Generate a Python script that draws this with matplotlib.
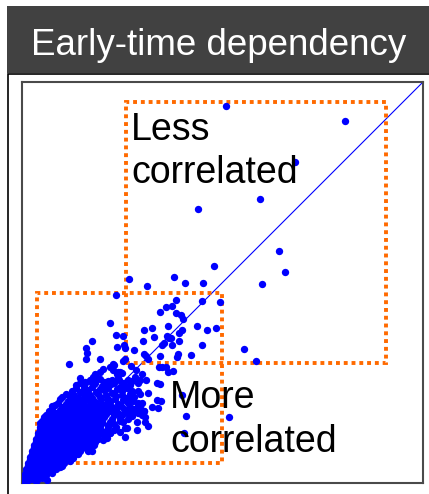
import numpy as np
import matplotlib
matplotlib.use("Agg")
import matplotlib.pyplot as plt
from matplotlib.patches import Rectangle

plt.rcParams['font.family'] = ['Liberation Sans', 'DejaVu Sans']

# scattered points (x, y) outside the dense core
sparse_pts = np.array([
    (51.0, 94.25), (80.75, 90.4), (68.25, 80.25), (59.4, 70.9), (44.1, 68.4),
    (64.25, 57.9), (48.0, 54.3), (65.75, 52.75), (60.0, 49.75), (38.1, 51.6),
    (40.75, 50.1), (45.3, 50.1), (26.7, 50.9), (31.2, 49.2), (23.4, 47.0),
    (38.4, 45.75), (36.0, 44.0), (37.5, 44.25), (45.0, 45.5), (49.5, 45.2),
    (34.5, 42.8), (38.4, 42.5), (39.75, 42.0), (40.2, 40.9), (43.8, 39.2),
    (46.25, 38.3), (48.6, 38.8), (30.6, 38.25), (32.4, 38.8), (36.6, 39.2),
    (40.1, 38.3), (23.4, 37.1), (25.2, 36.75), (32.9, 36.4), (36.2, 36.75),
    (36.75, 36.2), (37.25, 36.3), (39.25, 37.6), (35.4, 34.9), (35.1, 34.5),
    (37.5, 34.5), (39.3, 35.6), (30.25, 35.6), (45.0, 34.6), (23.7, 34.1),
    (25.5, 34.4), (25.7, 33.7), (27.9, 33.25), (30.6, 32.25), (31.0, 31.75),
    (34.5, 31.7), (39.0, 32.2), (38.75, 31.4), (42.25, 31.9), (55.6, 33.5),
    (58.5, 30.6), (31.4, 30.9), (25.7, 30.9), (34.25, 29.1), (34.9, 28.9),
    (36.0, 28.9), (36.4, 27.8), (37.8, 28.1), (27.3, 29.25), (28.5, 28.25),
    (29.9, 27.2), (22.0, 28.9), (22.8, 29.7), (24.1, 27.75), (24.9, 27.4),
    (22.0, 40.1), (17.4, 35.6), (15.9, 33.8), (16.25, 32.4), (15.9, 31.0),
    (11.75, 29.8), (19.5, 31.0), (22.9, 29.5), (25.3, 30.5), (29.5, 25.75),
    (30.9, 25.75), (27.6, 25.6), (29.1, 24.9), (28.25, 26.6), (33.7, 24.9),
    (34.5, 24.75), (26.2, 24.1), (27.4, 22.8), (29.1, 23.1), (29.5, 22.25),
    (31.4, 22.6), (26.6, 21.2), (27.8, 20.6), (29.1, 20.1), (30.1, 19.9),
    (34.75, 20.6), (33.9, 18.7), (27.0, 18.7), (27.4, 17.6), (29.1, 17.8),
    (30.6, 18.1), (30.1, 17.0), (39.9, 22.0), (41.0, 16.8), (51.75, 16.6),
    (28.7, 15.3), (30.75, 15.3), (31.4, 14.25), (25.75, 13.7), (40.6, 12.4),
    (7.4, 19.25), (17.0, 8.4), (17.4, 8.0), (14.9, 9.1), (15.75, 10.3),
    (20.3, 10.75), (22.0, 12.4), (12.8, 6.2), (11.2, 6.75), (4.5, 1.6),
    (6.2, 0.75), (3.7, 0.75), (9.5, 4.0), (7.75, 3.75), (20.3, 28.4),
    (19.5, 27.7), (18.25, 27.25), (17.7, 26.6), (18.8, 26.2), (22.8, 28.25),
    (23.7, 27.25), (24.5, 27.8), (24.3, 25.75), (22.4, 25.75), (14.5, 24.9),
    (15.75, 25.1), (21.2, 24.9), (17.0, 25.75), (25.3, 15.3), (26.2, 17.4),
    (28.7, 13.25), (26.2, 13.7), (24.5, 12.8), (25.75, 11.6), (21.2, 11.2),
    (30.75, 16.6), (32.4, 19.1), (33.7, 20.75), (13.7, 7.4), (4.5, 14.9),
    (6.2, 16.6), (3.25, 7.8), (2.8, 5.75),
])

# dense core near the origin
core_pts = np.array([
    (14.5, 26.2), (17.0, 25.6), (19.6, 26.0), (21.4, 25.4), (24.1, 26.3), (26.4, 25.7),
    (13.4, 24.6), (15.6, 24.2), (17.9, 24.8), (20.1, 24.3), (22.2, 24.7), (24.6, 24.1), (27.1, 24.5),
    (12.4, 23.1), (14.6, 22.7), (16.5, 23.3), (18.6, 22.8), (20.4, 23.2), (22.6, 22.6), (25.1, 23.0),
    (27.4, 22.9),
    (10.1, 21.4), (12.0, 21.8), (13.9, 21.3), (15.9, 21.7), (17.6, 21.2), (19.4, 21.6), (21.6, 21.1),
    (23.4, 21.7), (25.9, 21.3), (28.1, 21.5),
    (9.1, 20.1), (10.9, 19.7), (12.6, 20.2), (14.1, 19.8), (15.6, 20.3), (17.1, 19.6), (18.6, 20.1),
    (20.1, 19.7), (21.9, 20.2), (24.1, 19.8), (26.4, 20.0), (28.9, 19.6),
    (7.6, 18.6), (9.4, 18.2), (11.1, 18.7), (12.6, 18.3), (14.0, 18.8), (15.6, 18.2), (17.1, 18.6),
    (18.6, 18.3), (20.1, 18.7), (21.6, 18.2), (23.4, 18.6), (25.6, 18.4), (28.1, 18.5), (30.4, 18.1),
    (6.1, 17.1), (7.6, 16.8), (9.1, 17.2), (10.6, 16.7), (12.1, 17.1), (13.6, 16.8), (15.1, 17.2),
    (16.6, 16.7), (18.1, 17.1), (19.6, 16.8), (21.1, 17.2), (23.1, 16.9), (25.1, 17.1), (27.6, 16.8),
    (5.1, 15.6), (6.6, 15.2), (8.1, 15.7), (9.6, 15.3), (11.1, 15.6), (12.6, 15.2), (14.1, 15.7),
    (15.6, 15.3), (17.1, 15.6), (18.6, 15.2), (20.1, 15.6), (22.1, 15.3), (24.6, 15.5),
    (4.6, 14.1), (6.1, 13.8), (7.6, 14.2), (9.1, 13.7), (10.6, 14.1), (12.1, 13.8), (13.6, 14.2),
    (15.1, 13.7), (16.6, 14.1), (18.1, 13.8), (19.6, 14.2), (21.6, 13.9), (23.6, 14.0),
    (4.1, 12.6), (5.6, 12.2), (7.1, 12.7), (8.6, 12.3), (10.1, 12.6), (11.6, 12.2), (13.1, 12.7),
    (14.6, 12.3), (16.1, 12.6), (17.6, 12.2), (19.6, 12.6), (22.1, 12.4),
    (3.6, 11.1), (5.1, 10.8), (6.6, 11.2), (8.1, 10.7), (9.6, 11.1), (11.1, 10.8), (12.6, 11.2),
    (14.1, 10.7), (15.6, 11.1), (17.1, 10.8), (19.1, 11.0),
    (3.1, 9.6), (4.6, 9.2), (6.1, 9.7), (7.6, 9.3), (9.1, 9.6), (10.6, 9.2), (12.1, 9.7),
    (13.6, 9.3), (15.1, 9.6), (16.6, 9.2), (18.1, 9.5),
    (2.6, 8.1), (4.1, 7.8), (5.6, 8.2), (7.1, 7.7), (8.6, 8.1), (10.1, 7.8), (11.6, 8.2),
    (13.1, 7.7), (14.6, 8.1), (16.4, 7.9),
    (2.1, 6.6), (3.6, 6.2), (5.1, 6.7), (6.6, 6.3), (8.1, 6.6), (9.6, 6.2), (11.1, 6.6), (12.6, 6.3),
    (1.6, 5.1), (3.1, 4.8), (4.6, 5.2), (6.1, 4.7), (7.6, 5.1), (9.1, 4.8), (10.6, 5.0),
    (1.1, 3.6), (2.6, 3.3), (4.1, 3.7), (5.6, 3.2), (7.1, 3.6), (8.6, 3.4),
    (0.6, 2.1), (1.6, 1.8), (3.1, 2.2), (4.6, 1.7), (6.1, 2.0),
    (0.3, 0.8), (1.2, 0.5), (2.5, 0.9), (3.6, 0.6),
])

# more core points sitting between the rows above
core_fill = np.array([
    (15.8, 25.3), (18.3, 25.0), (20.6, 25.2), (22.9, 25.1), (25.3, 24.9),
    (13.6, 23.8), (15.6, 23.5), (17.6, 23.9), (19.6, 23.6), (21.5, 23.8), (23.8, 23.5), (26.2, 23.7),
    (11.1, 22.3), (13.0, 22.0), (15.0, 22.4), (16.9, 22.1), (18.9, 22.3), (20.9, 22.0), (23.0, 22.3),
    (24.9, 22.1), (27.0, 22.2),
    (9.6, 20.9), (11.5, 20.6), (13.3, 21.0), (14.9, 20.7), (16.4, 21.0), (18.0, 20.6), (19.8, 20.9),
    (21.5, 20.6), (23.3, 20.9), (25.2, 20.7), (27.4, 20.8),
    (8.3, 19.4), (10.1, 19.0), (11.8, 19.4), (13.3, 19.1), (14.8, 19.5), (16.3, 19.0), (17.8, 19.4),
    (19.3, 19.1), (20.9, 19.4), (22.6, 19.0), (24.7, 19.3), (26.9, 19.1), (29.4, 19.2),
    (6.8, 17.9), (8.4, 17.5), (10.0, 17.9), (11.4, 17.6), (12.9, 17.9), (14.4, 17.5), (15.9, 17.9),
    (17.4, 17.6), (18.9, 17.9), (20.4, 17.5), (22.1, 17.9), (24.1, 17.6), (26.4, 17.8), (29.0, 17.6),
    (5.6, 16.4), (7.0, 16.0), (8.6, 16.4), (10.1, 16.0), (11.6, 16.4), (13.1, 16.0), (14.6, 16.4),
    (16.1, 16.0), (17.6, 16.4), (19.1, 16.0), (20.6, 16.4), (22.6, 16.1), (24.6, 16.3), (26.6, 16.1),
    (4.9, 14.9), (6.4, 14.5), (7.9, 14.9), (9.4, 14.5), (10.9, 14.9), (12.4, 14.5), (13.9, 14.9),
    (15.4, 14.5), (16.9, 14.9), (18.4, 14.5), (19.9, 14.9), (21.4, 14.6), (23.1, 14.8),
    (4.4, 13.4), (5.9, 13.0), (7.4, 13.4), (8.9, 13.0), (10.4, 13.4), (11.9, 13.0), (13.4, 13.4),
    (14.9, 13.0), (16.4, 13.4), (17.9, 13.0), (19.4, 13.4), (20.9, 13.1), (22.9, 13.2),
    (3.9, 11.9), (5.4, 11.5), (6.9, 11.9), (8.4, 11.5), (9.9, 11.9), (11.4, 11.5), (12.9, 11.9),
    (14.4, 11.5), (15.9, 11.9), (17.4, 11.5), (18.6, 11.9), (20.6, 11.7),
    (3.4, 10.4), (4.9, 10.0), (6.4, 10.4), (7.9, 10.0), (9.4, 10.4), (10.9, 10.0), (12.4, 10.4),
    (13.9, 10.0), (15.4, 10.4), (16.9, 10.0), (18.3, 10.3),
    (2.9, 8.9), (4.4, 8.5), (5.9, 8.9), (7.4, 8.5), (8.9, 8.9), (10.4, 8.5), (11.9, 8.9),
    (13.4, 8.5), (14.9, 8.9), (16.2, 8.6),
    (2.4, 7.3), (3.9, 7.0), (5.4, 7.4), (6.9, 7.0), (8.4, 7.3), (9.9, 7.0), (11.4, 7.3),
    (12.9, 7.0), (14.1, 7.2),
    (1.9, 5.9), (3.4, 5.5), (4.9, 5.9), (6.4, 5.5), (7.9, 5.9), (9.4, 5.5), (10.9, 5.8), (11.9, 5.6),
    (1.4, 4.4), (2.9, 4.0), (4.4, 4.4), (5.9, 4.0), (7.4, 4.3), (8.9, 4.1), (10.0, 4.3),
    (0.9, 2.8), (2.2, 2.5), (3.6, 2.9), (5.1, 2.5), (6.6, 2.8), (7.6, 2.6),
    (0.5, 1.4), (1.9, 1.1), (3.3, 1.4), (4.9, 1.2),
])

# highlighted regions: (x0, y0, x1, y1)
boxes = [(25.9, 30.1, 91.0, 95.25), (3.8, 5.1, 50.0, 47.5)]
labels = ["Less\ncorrelated", "More\ncorrelated"]
label_pos = [(27.3, 74.9), (37.0, 7.8)]   # baseline of the last line
title = "Early-time dependency"

W, H = 429, 494
fig = plt.figure(figsize=(W / 100, H / 100), dpi=100)

# title bar and outer frame
fig.patches.append(Rectangle((7 / W, (H - 73) / H), 1.0, 66.5 / H,
                             transform=fig.transFigure, facecolor='#414141',
                             edgecolor='none', zorder=0))
fig.patches.append(Rectangle((8 / W, -0.1), 1.0, (H - 74.3) / H + 0.1,
                             transform=fig.transFigure, facecolor='none',
                             edgecolor='black', linewidth=1.2, zorder=0))
fig.text(31 / W, (H - 55) / H, title, color='white', fontsize=26.5,
         ha='left', va='baseline')

ax = fig.add_axes([22 / W, (H - 483) / H, 401 / W, 401 / H])
ax.set_xlim(0, 100.25)
ax.set_ylim(0, 100.25)
ax.set_xticks([])
ax.set_yticks([])
for s in ax.spines.values():
    s.set_color('#4a4a4a')
    s.set_linewidth(1.5)

ax.plot([0, 100.25], [0, 100.25], color='#0000ff', linewidth=0.8, zorder=2)

for x0, y0, x1, y1 in boxes:
    ax.add_patch(Rectangle((x0, y0), x1 - x0, y1 - y0, fill=False,
                           edgecolor='#ff6a00', linewidth=2.8,
                           linestyle=(0, (1, 1)), capstyle='butt', zorder=3))

for pts in (core_pts, core_fill, sparse_pts):
    ax.scatter(pts[:, 0], pts[:, 1], s=28, color='#0000ff', linewidths=0, zorder=4)

for txt, (tx, ty) in zip(labels, label_pos):
    ax.text(tx, ty, txt, fontsize=27, color='black', ha='left', va='baseline',
            linespacing=1.27, zorder=5)

fig.savefig('out.png', dpi=100)
